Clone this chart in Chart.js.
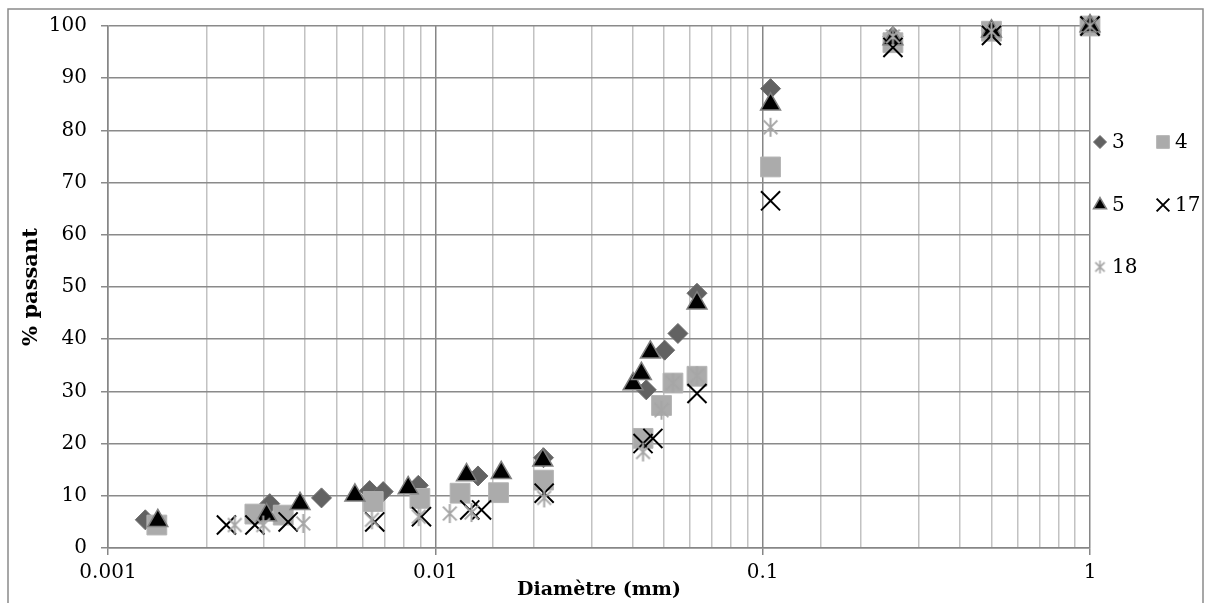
<!DOCTYPE html>
<html lang="fr">
<head>
<meta charset="UTF-8">
<title>Courbes granulométriques</title>
<script src="https://cdn.jsdelivr.net/npm/chart.js"></script>
<style>
  html, body { margin: 0; padding: 0; background: #fff; }
  canvas { display: block; }
</style>
</head>
<body>
<canvas id="granuloChart" width="1211" height="603"></canvas>
<script>
// diamètre (mm) / % passant
const diam3 = [0.0013, 0.00312, 0.00449, 0.0063, 0.00693, 0.00887, 0.0135, 0.0214, 0.0441, 0.0502, 0.0551, 0.063, 0.1057, 0.25, 0.5, 1];
const pass3 = [5.4, 8.5, 9.6, 11.0, 10.8, 12.0, 13.8, 17.3, 30.3, 37.9, 41.1, 48.8, 88.0, 98.0, 99.2, 100];

const diam4 = [0.00141, 0.00281, 0.00343, 0.00646, 0.00897, 0.0119, 0.0156, 0.0214, 0.0431, 0.0491, 0.0532, 0.063, 0.1057, 0.25, 0.5, 1];
const pass4 = [4.4, 6.5, 6.3, 8.9, 9.5, 10.5, 10.6, 13.0, 21.0, 27.3, 31.6, 32.9, 73.0, 96.8, 99.0, 100];

const diam5 = [0.00142, 0.00305, 0.00386, 0.00568, 0.00826, 0.01245, 0.0159, 0.0213, 0.0402, 0.0426, 0.0454, 0.063, 0.1057, 0.25, 0.5, 1];
const pass5 = [5.2, 6.3, 8.5, 10.1, 11.5, 14.0, 14.4, 16.8, 31.4, 33.4, 37.5, 46.9, 85.0, 97.5, 99.0, 100];

const diam17 = [0.0023, 0.00281, 0.00355, 0.00653, 0.00907, 0.01274, 0.01384, 0.0215, 0.0431, 0.0462, 0.063, 0.1057, 0.25, 0.5, 1];
const pass17 = [4.4, 4.4, 5.0, 5.0, 6.0, 7.3, 7.3, 10.5, 20.0, 21.0, 29.6, 66.5, 95.9, 98.2, 100];

const diam18 = [0.00244, 0.00298, 0.00395, 0.0064, 0.0089, 0.01107, 0.0129, 0.0215, 0.0431, 0.0491, 0.0532, 0.063, 0.1057, 0.25, 0.5, 1];
const pass18 = [4.4, 4.4, 4.7, 5.4, 6.0, 6.6, 6.8, 9.6, 18.4, 26.4, 31.6, 33.0, 80.6, 98.0, 99.0, 100];

const seriesNames = ['3', '4', '5', '17', '18'];
const xMin = 0.001, xMax = 1;
const yMin = 0, yMax = 100, yStep = 10;

function toPoints(xs, ys) {
    return xs.map((x, i) => ({ x: x, y: ys[i] }));
}

function isDecade(v) {
    const l = Math.log10(v);
    return Math.abs(l - Math.round(l)) < 1e-6;
}

// astérisque Excel : trait vertical + croix
function makeAsterisk(size, color, lw) {
    const c = document.createElement('canvas');
    c.width = size; c.height = size;
    const g = c.getContext('2d');
    const m = size / 2, r = size / 2 - 1;
    const d = r * 0.72;
    g.strokeStyle = color;
    g.lineWidth = lw;
    g.beginPath();
    g.moveTo(m, m - r); g.lineTo(m, m + r);
    g.moveTo(m - d, m - d); g.lineTo(m + d, m + d);
    g.moveTo(m + d, m - d); g.lineTo(m - d, m + d);
    g.stroke();
    return c;
}

const asteriskBig = makeAsterisk(21, '#a6a6a6', 2);
const asteriskSmall = makeAsterisk(15, '#a6a6a6', 1.6);

const bgAndFrame = {
    id: 'bgAndFrame',
    beforeDraw(chart) {
        const ctx = chart.ctx;
        ctx.save();
        ctx.fillStyle = '#fff';
        ctx.fillRect(0, 0, chart.width, chart.height);
        ctx.restore();
    },
    afterDraw(chart) {
        const ctx = chart.ctx;
        ctx.save();
        ctx.strokeStyle = '#8a8a8a';
        ctx.lineWidth = 1.5;
        ctx.strokeRect(8, 9, 1195, 600);
        ctx.restore();
    }
};

// légende sur deux colonnes, comme dans Excel
const gridLegend = {
    id: 'gridLegend',
    afterDraw(chart) {
        const ctx = chart.ctx;
        const cells = [[1100, 142], [1163, 142], [1100, 205], [1163, 205], [1100, 267]];
        chart.data.datasets.forEach((ds, i) => {
            const [x, y] = cells[i];
            ctx.save();
            if (ds.pointStyle instanceof HTMLCanvasElement) {
                ctx.drawImage(asteriskSmall, x - 7.5, y - 7.5);
            } else {
                ctx.fillStyle = ds.backgroundColor;
                ctx.strokeStyle = ds.borderColor;
                ctx.lineWidth = ds.borderWidth;
                Chart.helpers.drawPoint(ctx, {
                    pointStyle: ds.pointStyle,
                    radius: ds.legendRadius,
                    borderWidth: ds.borderWidth,
                    rotation: 0
                }, x, y);
            }
            ctx.fillStyle = '#000';
            ctx.font = '20px "DejaVu Serif"';
            ctx.textBaseline = 'middle';
            ctx.textAlign = 'left';
            ctx.fillText(ds.label, x + 12, y + 1);
            ctx.restore();
        });
    }
};

const serif = '"DejaVu Serif", "Liberation Serif", serif';

new Chart(document.getElementById('granuloChart'), {
    type: 'scatter',
    data: {
        datasets: [
            {
                label: seriesNames[0], data: toPoints(diam3, pass3), clip: false,
                pointStyle: 'rectRot', pointRadius: 10, legendRadius: 6.5,
                backgroundColor: '#626262', borderColor: '#6e6e6e', borderWidth: 1, order: 5
            },
            {
                label: seriesNames[1], data: toPoints(diam4, pass4), clip: false,
                pointStyle: 'rect', pointRadius: 14, legendRadius: 9,
                backgroundColor: '#ababab', borderColor: '#b4b4b4', borderWidth: 1, order: 4
            },
            {
                label: seriesNames[2], data: toPoints(diam5, pass5), clip: false,
                pointStyle: 'triangle', pointRadius: 11.5, legendRadius: 7.5,
                backgroundColor: '#000', borderColor: '#7f7f7f', borderWidth: 1.5, order: 3
            },
            {
                label: seriesNames[3], data: toPoints(diam17, pass17), clip: false,
                pointStyle: 'crossRot', pointRadius: 13.5, legendRadius: 9,
                backgroundColor: '#000', borderColor: '#000', borderWidth: 2, order: 2
            },
            {
                label: seriesNames[4], data: toPoints(diam18, pass18), clip: false,
                pointStyle: asteriskBig, pointRadius: 10,
                backgroundColor: '#a6a6a6', borderColor: '#a6a6a6', borderWidth: 2, order: 1
            }
        ]
    },
    options: {
        responsive: false,
        animation: false,
        layout: { padding: { left: 0, top: 25, right: 121, bottom: 0 } },
        plugins: {
            legend: { display: false },
            tooltip: { enabled: false }
        },
        elements: { point: { hoverRadius: 10 } },
        scales: {
            x: {
                type: 'logarithmic',
                min: xMin, max: xMax,
                afterFit(scale) { scale.height = 55; },
                grid: {
                    color: c => isDecade(c.tick.value) ? '#868686' : '#c2c2c2',
                    lineWidth: 1.5,
                    tickLength: 7,
                    tickColor: c => isDecade(c.tick.value) ? '#868686' : 'rgba(0,0,0,0)'
                },
                border: { color: '#868686', width: 1.5 },
                ticks: {
                    autoSkip: false, maxRotation: 0, padding: 6,
                    color: '#000',
                    font: { family: serif, size: 20 },
                    callback: v => isDecade(v) ? String(v) : ''
                },
                title: {
                    display: true, text: 'Diamètre (mm)', color: '#000',
                    font: { family: serif, size: 19, weight: 'bold' },
                    padding: { top: 0, bottom: 2 }
                }
            },
            y: {
                min: yMin, max: yMax,
                afterFit(scale) { scale.width = 108; },
                grid: { color: '#8a8a8a', lineWidth: 1.5, tickLength: 7 },
                border: { color: '#868686', width: 1.5 },
                ticks: {
                    stepSize: yStep, padding: 14, color: '#000',
                    font: { family: serif, size: 20 }
                },
                title: {
                    display: true, text: '% passant', color: '#000',
                    font: { family: serif, size: 21, weight: 'bold' },
                    padding: { top: 19, bottom: 0 }
                }
            }
        }
    },
    plugins: [bgAndFrame, gridLegend]
});
</script>
</body>
</html>
